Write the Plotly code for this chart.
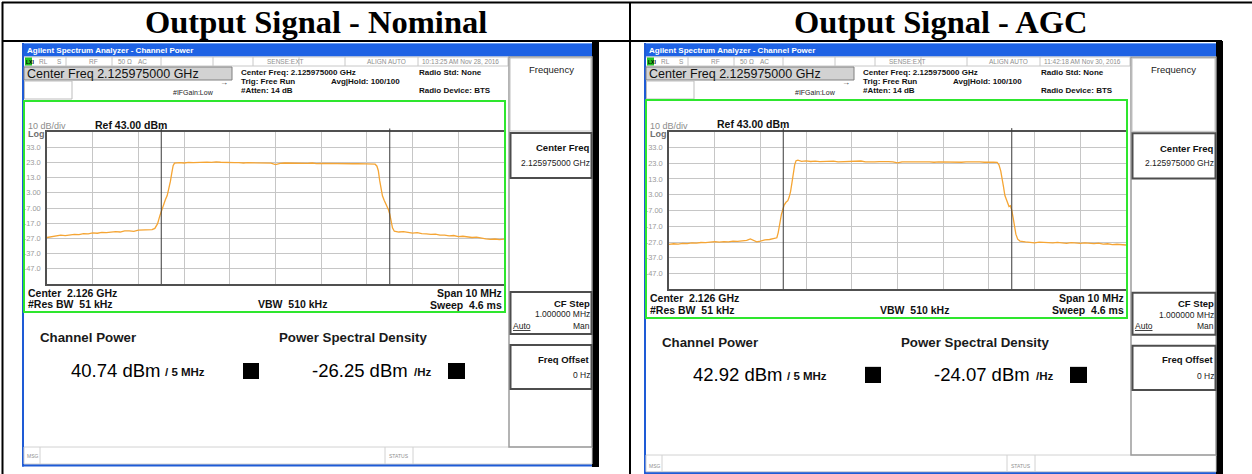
import numpy as np
import plotly.graph_objects as go

W, H = 1252, 474
SANS = "Liberation Sans, Arial, sans-serif"
NARROW = "Liberation Sans Narrow, Arial Narrow, Liberation Sans, sans-serif"
SERIF = "Liberation Serif, Times New Roman, serif"

# ---- sweep data: offset from 2.125975 GHz (MHz) and level (dBm) ----
nominal_freq = [-5.0, -4.9, -4.8, -4.7, -4.6, -4.5, -4.4, -4.3, -4.2, -4.1, -4.0, -3.9, -3.8,
                -3.7, -3.6, -3.5, -3.4, -3.3, -3.2, -3.1, -3.0, -2.9, -2.8, -2.7, -2.64,
                -2.58, -2.53, -2.49, -2.45, -2.41, -2.37, -2.33, -2.30, -2.27, -2.24, -2.21,
                -2.1, -2.0, -1.9, -1.8, -1.7, -1.6, -1.5, -1.4, -1.3, -1.2, -1.1, -1.0, -0.9,
                -0.8, -0.7, -0.6, -0.5, -0.4, -0.3, -0.2, -0.1, 0.0, 0.1, 0.2, 0.3, 0.4, 0.5,
                0.6, 0.7, 0.8, 0.9, 1.0, 1.1, 1.2, 1.3, 1.4, 1.5, 1.6, 1.7, 1.8, 1.9, 2.0, 2.1,
                2.18, 2.22, 2.25, 2.28, 2.31, 2.34, 2.38, 2.43, 2.47, 2.50, 2.53, 2.56, 2.60,
                2.7, 2.8, 2.9, 3.0, 3.1, 3.2, 3.3, 3.4, 3.5, 3.6, 3.7, 3.8, 3.9, 4.0, 4.1, 4.2,
                4.3, 4.4, 4.5, 4.6, 4.7, 4.8, 4.9, 5.0]
nominal_level = [-26.4, -25.8, -25.5, -24.9, -25.2, -24.6, -24.3, -24.5, -23.8, -24.0, -23.4,
                 -23.6, -23.0, -23.2, -22.7, -22.5, -22.8, -22.1, -22.0, -22.4, -21.6, -21.4,
                 -21.0, -21.2, -20.4,
                 -17.3, -12.0, -8.2, -4.0, -1.6, 1.2, 5.5, 10.5, 16.0, 20.8, 22.5,
                 22.9, 22.6, 23.0, 22.8, 23.1, 22.9, 23.2, 23.0, 23.4, 23.1, 22.9, 23.1, 22.8,
                 22.9, 22.6, 22.8, 22.7, 22.9, 22.6, 22.7, 22.5, 21.6, 22.4, 22.6, 22.5, 22.7,
                 22.3, 22.5, 22.4, 22.6, 22.2, 22.4, 22.3, 22.5, 22.2, 22.3, 22.0, 22.3, 22.1,
                 22.2, 22.0, 22.2, 22.0, 21.8,
                 20.5, 17.5, 11.0, 5.5, 1.0, -2.0, -5.0, -8.0, -11.0, -16.5, -20.0, -22.3,
                 -22.8, -22.6, -23.3, -23.5, -23.2, -23.9, -24.0, -24.4, -24.2, -24.8, -24.9,
                 -25.3, -25.1, -25.8, -25.6, -26.1, -26.4, -26.2, -26.9, -27.3, -27.6, -27.4,
                 -27.8, -27.5]

agc_freq = [-5.0, -4.9, -4.8, -4.7, -4.6, -4.5, -4.4, -4.3, -4.2, -4.1, -4.0, -3.9, -3.8, -3.7,
            -3.6, -3.5, -3.4, -3.3, -3.22, -3.15, -3.08, -3.0, -2.9, -2.8, -2.7, -2.64,
            -2.61, -2.58, -2.54, -2.51, -2.48, -2.44, -2.40, -2.37, -2.34, -2.31, -2.28, -2.25,
            -2.22, -2.18,
            -2.1, -2.0, -1.9, -1.8, -1.7, -1.6, -1.5, -1.4, -1.3, -1.2, -1.1, -1.0, -0.9, -0.8,
            -0.7, -0.6, -0.5, -0.4, -0.3, -0.2, -0.1, 0.0, 0.1, 0.2, 0.3, 0.4, 0.5, 0.6, 0.7,
            0.8, 0.9, 1.0, 1.1, 1.2, 1.3, 1.4, 1.5, 1.6, 1.7, 1.8, 1.9, 2.0, 2.1, 2.18,
            2.22, 2.26, 2.29, 2.32, 2.35, 2.38, 2.41, 2.44, 2.47, 2.50, 2.53, 2.56, 2.59, 2.63,
            2.68,
            2.8, 2.9, 3.0, 3.1, 3.2, 3.3, 3.4, 3.5, 3.6, 3.7, 3.8, 3.9, 4.0, 4.1, 4.2, 4.3, 4.4,
            4.5, 4.6, 4.7, 4.8, 4.9, 5.0]
agc_level = [-28.5, -28.1, -28.3, -27.9, -28.0, -27.6, -27.7, -27.3, -27.4, -27.0, -26.8, -27.1,
             -26.7, -26.9, -26.4, -26.6, -26.2, -26.0, -25.0, -26.1, -26.9, -26.4, -25.6, -25.4,
             -24.8, -24.3,
             -21.0, -15.0, -9.5, -6.5, -3.6, -1.8, -0.8, 1.5, 5.0, 10.5, 16.5, 22.0, 24.6, 24.9,
             24.2, 24.5, 24.1, 24.3, 24.0, 24.2, 24.1, 24.3, 23.9, 24.0, 24.2, 24.0, 24.1, 24.4,
             23.9, 24.1, 23.9, 24.0, 24.2, 24.0, 23.8, 23.2, 23.9, 23.8, 24.0, 23.7, 23.9, 23.8,
             23.9, 23.6, 23.9, 23.8, 23.7, 23.9, 23.8, 23.6, 23.8, 23.9, 23.7, 23.8, 23.6, 23.8,
             23.7, 23.5,
             22.0, 18.0, 14.0, 8.0, 2.5, 0.0, -2.0, -4.5, -4.0, -6.8, -11.5, -16.5, -22.0, -25.2,
             -26.4,
             -26.9, -27.2, -27.5, -27.1, -27.4, -27.3, -27.6, -27.2, -27.5, -27.8, -27.4, -27.6,
             -27.9, -27.5, -27.8, -28.0, -27.7, -28.3, -28.1, -28.6, -28.4, -28.8, -28.9]

column_titles = ["Output Signal - Nominal", "Output Signal - AGC"]
timestamps = ["10:13:25 AM Nov 28, 2016", "11:42:18 AM Nov 30, 2016"]
channel_power = ["40.74", "42.92"]
power_density = ["-26.25", "-24.07"]
level_ticks = [33, 23, 13, 3, -7, -17, -27, -37, -47]
level_tick_text = ["33.0", "23.0", "13.0", "3.00", "-7.00", "-17.0", "-27.0", "-37.0", "-47.0"]
ref_level = 43.0
db_per_div = 10
span_mhz = 10
channel_bw_mhz = 5

shapes, annotations = [], []


def X(px):
    return px / W


def Y(py):
    return 1 - py / H


def box(x0, y0, x1, y1, fill=None, line=None, width=1):
    shapes.append(dict(type="rect", xref="paper", yref="paper",
                       x0=X(x0), x1=X(x1), y0=Y(y1), y1=Y(y0),
                       fillcolor=fill if fill else "rgba(0,0,0,0)",
                       line=dict(color=line if line else "rgba(0,0,0,0)",
                                 width=width if line else 0)))


def seg(x0, y0, x1, y1, color, width=1):
    shapes.append(dict(type="line", xref="paper", yref="paper",
                       x0=X(x0), x1=X(x1), y0=Y(y0), y1=Y(y1),
                       line=dict(color=color, width=width)))


def label(s, x, y, size, color="#111111", bold=False, anchor="left", family=SANS):
    annotations.append(dict(text=f"<b>{s}</b>" if bold else s, x=X(x), y=Y(y),
                            xref="paper", yref="paper", xanchor=anchor, yanchor="middle",
                            showarrow=False, borderpad=0,
                            font=dict(family=family, size=size, color=color)))


fig = go.Figure()

# ---- document table ----
seg(2, 2.5, 1252, 2.5, "#000000", 2)
seg(2.5, 2, 2.5, 474, "#000000", 2)
seg(630, 2, 630, 474, "#000000", 2)
seg(2, 41, 1222, 41, "#000000", 2)
label(column_titles[0], 316, 22, 32.5, "#000000", True, "center", SERIF)
label(column_titles[1], 940, 22, 32.5, "#000000", True, "center", SERIF)


def panel(idx, dx, ymain, yside, xr, bottom, freq, level):
    M = lambda y: float(np.interp(y, ymain[0], ymain[1]))
    S = lambda y: float(np.interp(y, yside[0], yside[1]))
    P = lambda x: x + dx
    xa = "x" if idx == 0 else "x2"
    ya = "y" if idx == 0 else "y2"

    # window chrome
    box(xr, 41, xr + 7, bottom, fill="#000000")
    box(P(22), 43, xr, 56.5, fill="#1e62e4")
    seg(P(22), 43.5, xr, 43.5, "#6a9ff7", 1)
    label("Agilent Spectrum Analyzer - Channel Power", P(26), 50, 8, "#ffffff", True,
          family=NARROW)
    box(P(22), 43, P(24), M(466.5), fill="#1e5bd6")
    box(P(22), M(464), xr, M(466.5), fill="#1e5bd6")

    # status strip
    seg(P(24), 57, P(508), 57, "#c8c8c8")
    seg(P(24), 66, P(508), 66, "#c8c8c8")
    for sx in [66, 112, 161, 213, 253, 299, 345, 418, 508]:
        seg(P(sx), 57, P(sx), 66, "#c8c8c8")
    box(P(25), 57.5, P(32), 65.5, fill="#22c422")
    label("LXI", P(25.3), 61.7, 5, "#000000", True)
    for s, sx in [("RL", 38), ("S", 56), ("RF", 88), ("50 Ω", 117), ("AC", 137),
                  ("SENSE:EXT", 266), ("ALIGN AUTO", 366)]:
        label(s, P(sx), 61.7, 6.5, "#8f8f8f")
    label(timestamps[idx], P(421), 61.7, 6.5, "#8f8f8f")

    # measurement header
    box(P(24), 67, P(232), 80, fill="#d2d2d2", line="#808080")
    label("Center Freq 2.125975000 GHz", P(26), 73.7, 12.5, "#111111")
    box(P(24.5), 81, P(72), 99, line="#bdbdbd")
    label("Center Freq: 2.125975000 GHz", P(240), 72, 8, "#111111", True)
    label("Trig: Free Run", P(240), 81, 8, "#111111", True)
    label("#Atten: 14 dB", P(240), 90, 8, "#111111", True)
    label("Avg|Hold: 100/100", P(330), 81, 8, "#111111", True)
    label("Radio Std: None", P(418), 72, 8, "#111111", True)
    label("Radio Device: BTS", P(418), 90, 8, "#111111", True)
    label("#IFGain:Low", P(172), 93, 7, "#222222")
    label("→", P(219), 83, 8, "#333333")

    # graticule frame
    box(P(24), M(101), P(505), M(312), line="#2ee62e", width=2)
    label("10 dB/div", P(27), M(126), 9, "#8c8c8c")
    label(f"Ref {ref_level:.2f} dBm", P(94), M(124.5), 10.5, "#111111", True)
    label("Log", P(27), M(134), 9, "#6f6f6f", True)
    label("Center  2.126 GHz", P(27), M(292.7), 10.5, "#111111", True)
    label("#Res BW  51 kHz", P(27), M(304), 10.5, "#111111", True)
    label("VBW  510 kHz", P(257), M(304), 10.5, "#111111", True)
    label(f"Span {span_mhz} MHz", P(503), M(292.5), 10.5, "#111111", True, "right")
    label("Sweep  4.6 ms", P(503), M(304.5), 10.5, "#111111", True, "right")

    # spectrum trace
    fig.add_trace(go.Scatter(x=freq, y=level, mode="lines", xaxis=xa, yaxis=ya,
                             line=dict(color="#f5a534", width=1.3), hoverinfo="skip"))
    axis_x = dict(domain=[X(P(47)), X(P(504))], range=[-span_mhz / 2, span_mhz / 2],
                  tick0=0, dtick=1, showgrid=True, gridcolor="#c6c6c6", gridwidth=1,
                  zeroline=False, showticklabels=False, ticks="", showline=True,
                  mirror=True, linecolor="#505050", linewidth=1.5, fixedrange=True,
                  anchor=ya)
    axis_y = dict(domain=[Y(M(284)), Y(M(132))],
                  range=[ref_level - 10 * db_per_div, ref_level],
                  tickvals=level_ticks, ticktext=level_tick_text, showgrid=True,
                  gridcolor="#c6c6c6", gridwidth=1, zeroline=False, ticks="",
                  ticklabelstandoff=3, tickfont=dict(family=SANS, size=7.5, color="#9a9a9a"),
                  showline=True, mirror=True, linecolor="#505050", linewidth=1.5,
                  fixedrange=True, anchor=xa)
    if idx == 0:
        fig.update_layout(xaxis=axis_x, yaxis=axis_y)
    else:
        fig.update_layout(xaxis2=axis_x, yaxis2=axis_y)
    # channel integration bandwidth markers
    for edge in (-channel_bw_mhz / 2, channel_bw_mhz / 2):
        shapes.append(dict(type="line", xref=xa, yref="paper", x0=edge, x1=edge,
                           y0=Y(M(284)), y1=Y(M(128.5)),
                           line=dict(color="#3a3a3a", width=1)))

    # results area
    label("Channel Power", P(39), M(337), 13.3, "#1a1a1a", True)
    label("Power Spectral Density", P(278), M(337), 13.3, "#1a1a1a", True)
    label(f"{channel_power[idx]} dBm", P(70), M(370.5), 18.5, "#000000")
    label("/ 5 MHz", P(164), M(372), 11.5, "#111111", True)
    box(P(243), M(363), P(259), M(379), fill="#000000")
    label(f"{power_density[idx]} dBm", P(311), M(370.5), 18.5, "#000000")
    label("/Hz", P(413), M(372), 11.5, "#111111", True)
    box(P(448), M(363), P(465), M(379), fill="#000000")

    # message bar
    box(P(24), M(447), xr, M(464), line="#d2d2d2")
    label("MSG", P(26), M(456), 5, "#8f8f8f")
    seg(P(40), M(447), P(40), M(464), "#d2d2d2")
    seg(P(385), M(447), P(385), M(464), "#d2d2d2")
    label("STATUS", P(388), M(456), 5, "#8f8f8f")
    seg(P(413), M(447), P(413), M(464), "#d2d2d2")

    # softkey column
    box(P(509), S(57), xr, S(447), line="#9c9c9c", width=1.5)
    box(P(510), S(58), xr - 1, S(131), line="#c0c0c0")
    label("Frequency", P(551), S(69), 9.5, "#222222", anchor="center")
    box(P(510.5), S(133), xr - 0.5, S(178), line="#4d4d4d", width=2)
    label("Center Freq", xr - 1, S(148), 9.5, "#111111", True, "right")
    label("2.125975000 GHz", xr - 1, S(163), 8.5, "#222222", anchor="right")
    box(P(510.5), S(292), xr - 0.5, S(334), line="#4d4d4d", width=2)
    label("CF Step", xr - 1, S(303), 9.5, "#111111", True, "right")
    label("1.000000 MHz", xr - 1, S(314), 8.5, "#222222", anchor="right")
    label("<u>Auto</u>", P(512), S(325.5), 8.5, "#222222")
    label("Man", xr - 1, S(325.5), 8.5, "#222222", anchor="right")
    box(P(510.5), S(345), xr - 0.5, S(389), line="#4d4d4d", width=2)
    label("Freq Offset", xr - 1, S(359), 9.5, "#111111", True, "right")
    label("0 Hz", xr - 1, S(375), 8.5, "#222222", anchor="right")


panel(0, 0, ([0, 474], [0, 474]), ([0, 474], [0, 474]), 592, 467,
      nominal_freq, nominal_level)
panel(1, 622,
      ([0, 101, 132, 284, 312, 337, 371, 447, 456, 465, 474],
       [0, 100, 131.7, 289.3, 318, 342, 374.5, 455, 465.7, 472.5, 481]),
      ([0, 395, 447, 474], [0, 396, 455, 482]),
      1216, 474, agc_freq, agc_level)

fig.update_layout(width=W, height=H, margin=dict(l=0, r=0, t=0, b=0),
                  paper_bgcolor="#ffffff", plot_bgcolor="#ffffff", showlegend=False,
                  shapes=shapes, annotations=annotations)
fig.write_html("out.html", config={"displayModeBar": False})
